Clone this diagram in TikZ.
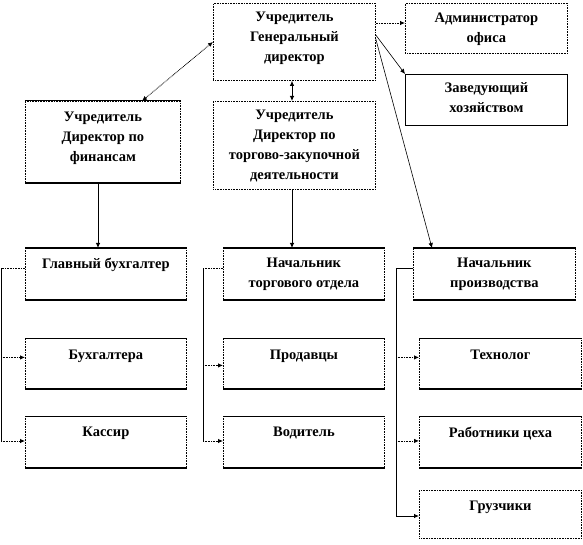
\documentclass[tikz,border=0pt]{standalone}
\usepackage{fontspec}
\setmainfont{Liberation Serif}
\usetikzlibrary{arrows.meta,calc}
\begin{document}
\begin{tikzpicture}[x=1pt,y=-1pt,line width=0.8pt,
  dotl/.style={line width=0.8pt, dash pattern=on 0.8pt off 0.8pt},
  solidedge/.style={draw, solid, line width=1pt},
  box/.style={rectangle, inner sep=0pt, anchor=north west, draw, dotl},
  tb/.style={append after command={(\tikzlastnode.north west) edge[solidedge] (\tikzlastnode.north east) (\tikzlastnode.south west) edge[solidedge, line width=1.5pt] (\tikzlastnode.south east)}},
  txt/.style={font=\bfseries\fontsize{14.5}{20}\selectfont, align=center, inner sep=0pt, anchor=north},
  arr/.style={-{Latex[length=5pt,width=4.5pt]}},
  darr/.style={{Latex[length=5pt,width=4.5pt]}-{Latex[length=5pt,width=4.5pt]}}]
\useasboundingbox (0,0) rectangle (583,545);
% boxes
\node[box, minimum width=162pt, minimum height=77pt] (gd) at (213,3) {};
\node[txt] at ($(gd.north)+(0,9)$) {Учредитель\\Генеральный\\директор};
\node[box, minimum width=162pt, minimum height=50pt] (adm) at (405,3) {};
\node[txt] at ($(adm.north)+(0,10)$) {Администратор\\офиса};
\node[box, solid, minimum width=162pt, minimum height=51pt] (zav) at (405,74) {};
\node[txt] at ($(zav.north)+(0,8)$) {Заведующий\\хозяйством};
\node[box, tb, minimum width=155pt, minimum height=81pt] (fd) at (25,101) {};
\node[txt] at ($(fd.north)+(0,11)$) {Учредитель\\Директор по\\финансам};
\node[box, minimum width=162pt, minimum height=88pt] (td) at (213,101) {};
\node[txt] at ($(td.north)+(0,9)$) {Учредитель\\Директор по\\торгово-закупочной\\деятельности};
\node[box, tb, minimum width=161pt, minimum height=51pt] (gb) at (25,248) {};
\node[txt] at ($(gb.north)+(0,10)$) {Главный бухгалтер};
\node[box, tb, minimum width=161pt, minimum height=50pt] (buh) at (25,338) {};
\node[txt] at ($(buh.north)+(0,12)$) {Бухгалтера};
\node[box, tb, minimum width=161pt, minimum height=51pt] (kas) at (25,416) {};
\node[txt] at ($(kas.north)+(0,11)$) {Кассир};
\node[box, tb, minimum width=161pt, minimum height=51pt] (nto) at (223,248) {};
\node[txt] at ($(nto.north)+(0,10)$) {Начальник\\торгового отдела};
\node[box, tb, minimum width=161pt, minimum height=50pt] (prod) at (223,338) {};
\node[txt] at ($(prod.north)+(0,12)$) {Продавцы};
\node[box, tb, minimum width=161pt, minimum height=51pt] (vod) at (223,416) {};
\node[txt] at ($(vod.north)+(0,11)$) {Водитель};
\node[box, tb, minimum width=162pt, minimum height=51pt] (np) at (413,248) {};
\node[txt] at ($(np.north)+(0,10)$) {Начальник\\производства};
\node[box, tb, minimum width=162pt, minimum height=50pt] (tech) at (419,338) {};
\node[txt] at ($(tech.north)+(0,12)$) {Технолог};
\node[box, tb, minimum width=162pt, minimum height=51pt] (rab) at (419,416) {};
\node[txt] at ($(rab.north)+(0,11)$) {Работники цеха};
\node[box, minimum width=162pt, minimum height=48pt] (gruz) at (419,490) {};
\node[txt] at ($(gruz.north)+(0,11)$) {Грузчики};
% top connectors
\draw[darr, dotl] (gd.west) -- ($(fd.north west)+(117,0)$);
\draw[darr] ($(gd.south west)+(79,0)$) -- ($(td.north west)+(79,0)$);
\draw[arr, dotl] ($(gd.north east)+(0,20)$) -- ($(adm.north west)+(0,20)$);
\draw[arr, line width=0.6pt] ($(gd.north east)+(0,32)$) -- (zav.north west);
\draw[arr, line width=0.6pt] ($(gd.north east)+(0,36)$) -- ($(np.north west)+(19,0)$);
\draw[arr] ($(fd.south west)+(73,0)$) -- ($(gb.north west)+(73,0)$);
\draw[arr] ($(td.south west)+(79,0)$) -- ($(nto.north west)+(69,0)$);
% left bracket
\coordinate (lt) at (1,268);
\coordinate (lb) at (1,441);
\draw[dotl] ($(gb.north west)+(0,20)$) -- (lt);
\draw (lt) -- (lb);
\draw[arr, dotl] (lt |- buh.west) ++(0,-6) -- ($(buh.west)+(0,-6)$);
\draw[arr, dotl] (lb) -- (lb -| kas.west);
% middle bracket
\coordinate (mt) at (203,268);
\coordinate (mb) at (203,441);
\draw[dotl] ($(nto.north west)+(0,20)$) -- (mt);
\draw (mt) -- (mb);
\draw[arr, dotl] ($(mt |- prod.west)+(0,2)$) -- ($(prod.west)+(0,2)$);
\draw[arr, dotl] (mb) -- (mb -| vod.west);
% right bracket
\coordinate (rt) at (396,268);
\coordinate (rb) at (396,516);
\draw ($(np.north west)+(0,20)$) -- (rt);
\draw (rt) -- (rb);
\draw[arr, dotl] ($(rt |- tech.west)+(0,-6)$) -- ($(tech.west)+(0,-6)$);
\draw[arr, dotl] ($(rt |- rab.west)+(0,-1)$) -- ($(rab.west)+(0,-1)$);
\draw[arr] (rb) -- (rb -| gruz.west);
\end{tikzpicture}
\end{document}
